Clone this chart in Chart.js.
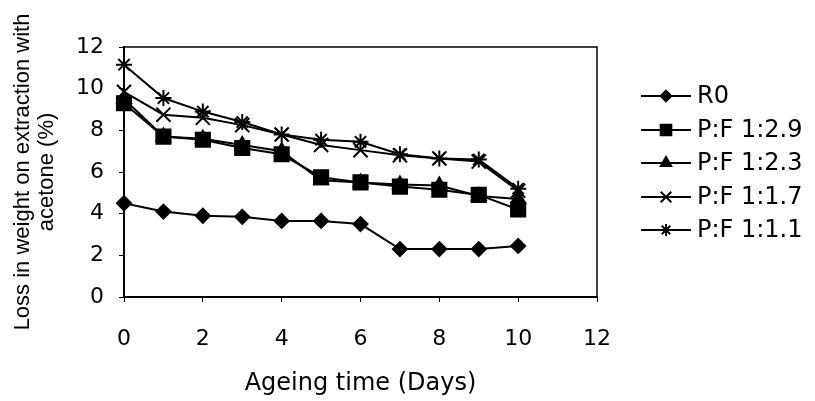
<!DOCTYPE html>
<html>
<head>
<meta charset="utf-8">
<script src="https://cdn.jsdelivr.net/npm/chart.js@4/dist/chart.umd.min.js"></script>
<style>
  html, body { margin: 0; padding: 0; background: #fff; }
  #wrap { width: 815px; height: 401px; }
</style>
</head>
<body>
<div id="wrap"><canvas id="c"></canvas></div>
<script>
const days = [0, 1, 2, 3, 4, 5, 6, 7, 8, 9, 10];
const seriesNames = ["R0", "P:F 1:2.9", "P:F 1:2.3", "P:F 1:1.7", "P:F 1:1.1"];
const r0 = [4.5, 4.1, 3.9, 3.85, 3.65, 3.65, 3.5, 2.3, 2.3, 2.3, 2.45];
const pf29 = [9.3, 7.7, 7.55, 7.15, 6.85, 5.75, 5.5, 5.3, 5.15, 4.9, 4.2];
const pf23 = [9.5, 7.7, 7.6, 7.3, 7.0, 5.6, 5.5, 5.4, 5.35, 4.85, 4.7];
const pf17 = [9.85, 8.75, 8.6, 8.25, 7.8, 7.3, 7.05, 6.8, 6.65, 6.5, 5.1];
const pf11 = [11.15, 9.55, 8.9, 8.4, 7.8, 7.55, 7.45, 6.85, 6.65, 6.6, 5.2];
const xTicks = [0, 2, 4, 6, 8, 10, 12];
const yTicks = [0, 2, 4, 6, 8, 10, 12];

const styles = [
  { pointStyle: "rectRot", radius: 7 },
  { pointStyle: "rect", radius: 10 },
  { pointStyle: "triangle", radius: 8 },
  { pointStyle: "crossRot", radius: 10 },
  { pointStyle: "star", radius: 8 }
];

const allValues = [r0, pf29, pf23, pf17, pf11];

const datasets = allValues.map((vals, i) => ({
  label: seriesNames[i],
  data: days.map((d, j) => ({ x: d, y: vals[j] })),
  borderColor: "#000",
  backgroundColor: "#000",
  borderWidth: 2,
  pointStyle: styles[i].pointStyle,
  pointRadius: styles[i].radius,
  pointBorderWidth: 2,
  pointBackgroundColor: "#000",
  pointBorderColor: "#000",
  clip: false,
  tension: 0
}));

// plot frame (top / right edges too)
const frame = {
  id: "frame",
  beforeDatasetsDraw(chart) {
    const { ctx, chartArea: a } = chart;
    ctx.save();
    ctx.strokeStyle = "#000";
    ctx.lineWidth = 1.5;
    ctx.strokeRect(a.left, a.top, a.right - a.left, a.bottom - a.top);
    ctx.restore();
  }
};

// legend: line through the marker, like the original
const sideLegend = {
  id: "sideLegend",
  afterDraw(chart) {
    const ctx = chart.ctx;
    const rows = [96, 130, 163, 197, 230];
    ctx.save();
    chart.data.datasets.forEach((ds, i) => {
      const y = rows[i];
      ctx.strokeStyle = "#000";
      ctx.lineWidth = 2;
      ctx.beginPath();
      ctx.moveTo(641, y);
      ctx.lineTo(691, y);
      ctx.stroke();
      ctx.fillStyle = "#000";
      Chart.helpers.drawPoint(ctx, {
        pointStyle: ds.pointStyle,
        radius: ds.pointRadius * 0.75,
        rotation: 0,
        borderWidth: 2
      }, 666, y);
      ctx.fillStyle = "#000";
      ctx.font = "24px 'DejaVu Sans'";
      ctx.textBaseline = "middle";
      ctx.textAlign = "left";
      ctx.fillText(ds.label, 697, y + 1);
    });
    ctx.restore();
  }
};

new Chart(document.getElementById("c"), {
  type: "line",
  data: { datasets },
  plugins: [frame, sideLegend],
  options: {
    responsive: true,
    maintainAspectRatio: false,
    animation: false,
    layout: { padding: { left: 0, top: 47, right: 218, bottom: 0 } },
    plugins: {
      legend: { display: false },
      tooltip: { enabled: false }
    },
    scales: {
      x: {
        type: "linear",
        min: 0,
        max: 12,
        afterFit: s => { s.height = 104; },
        afterBuildTicks: s => { s.ticks = xTicks.map(v => ({ value: v })); },
        border: { display: true, color: "#000", width: 2 },
        grid: { display: true, drawOnChartArea: false, tickLength: 5, color: "#000" },
        ticks: { color: "#000", padding: 24, font: { family: "DejaVu Sans", size: 22 } },
        title: {
          display: true,
          text: "Ageing time (Days)",
          color: "#000",
          font: { family: "DejaVu Sans", size: 24 },
          padding: { top: 0, bottom: 3 }
        }
      },
      y: {
        min: 0,
        max: 12,
        afterFit: s => { s.width = 124; },
        afterBuildTicks: s => { s.ticks = yTicks.map(v => ({ value: v })); },
        border: { display: true, color: "#000", width: 2 },
        grid: { display: true, drawOnChartArea: false, tickLength: 5, color: "#000" },
        ticks: { color: "#000", padding: 15, font: { family: "DejaVu Sans", size: 22 } },
        title: {
          display: true,
          text: ["Loss in weight on extraction with", "acetone (%)"],
          color: "#000",
          font: { family: "Liberation Sans", size: 22, lineHeight: 1.1 },
          padding: { top: 11, bottom: 0 }
        }
      }
    }
  }
});
</script>
</body>
</html>
